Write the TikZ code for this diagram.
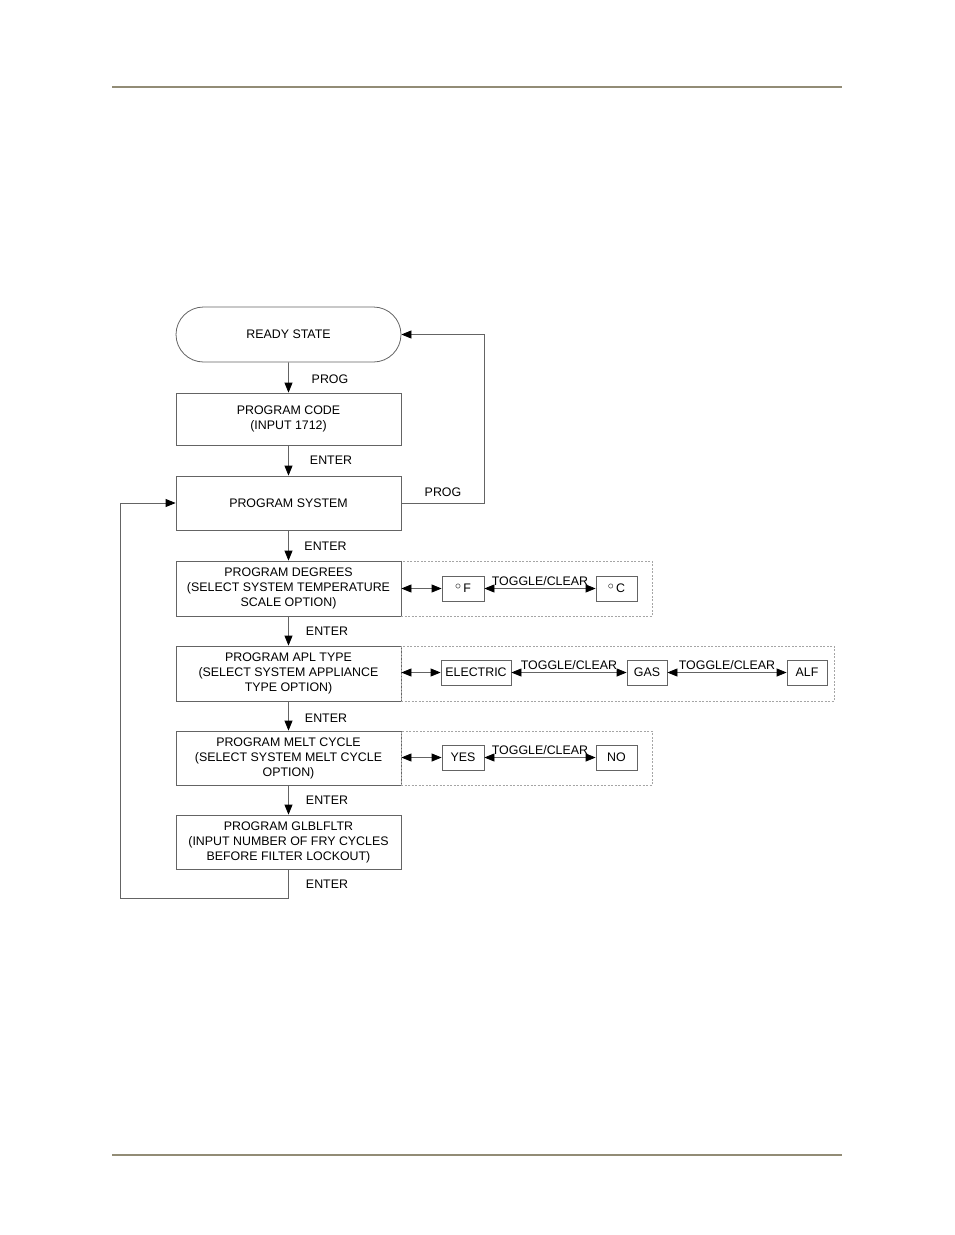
\documentclass[tikz,border=0pt]{standalone}
\usepackage{fontspec}
\setmainfont{Liberation Sans}
\usetikzlibrary{arrows.meta,shapes.misc}
\definecolor{rulecol}{RGB}{146,140,118}
\definecolor{linecol}{RGB}{100,100,100}
\definecolor{dashcol}{RGB}{165,165,165}
\tikzset{
  x=1pt, y=-1pt,
  tip/.style={},
  txt/.style={font=\fontsize{12.4}{15}\selectfont, text=black},
  bigbox/.style={txt, draw=linecol, line width=0.8pt, minimum width=225pt, minimum height=54pt, align=center, inner sep=0pt},
  optbox/.style={txt, draw=linecol, line width=0.8pt, minimum height=25pt, inner sep=0pt},
  dbox/.style={draw=dashcol, line width=0.7pt, dash pattern=on 2pt off 1.5pt, inner sep=0pt},
  flow/.style={draw=linecol, line width=0.8pt, -{Triangle[length=10pt,width=8pt,fill=black,color=black]}},
  dbl/.style={draw=linecol, line width=0.8pt, {Triangle[length=10pt,width=8pt,fill=black,color=black]}-{Triangle[length=10pt,width=8pt,fill=black,color=black]}},
  lbl/.style={txt, inner sep=0pt},
  hrule/.style={draw=rulecol, line width=2pt}
}
\newcommand{\degsym}{\raisebox{3pt}{\fontsize{12}{12}\selectfont$\circ$}\,}
\begin{document}
\begin{tikzpicture}
\useasboundingbox (0,0) rectangle (954,1235);
% header and footer rules
\coordinate (h1) at (112,87);
\coordinate (h2) at (842,87);
\coordinate (f1) at (112,1155);
\coordinate (f2) at (842,1155);
\draw[hrule] (h1) -- (h2);
\draw[hrule] (f1) -- (f2);

% main column
\node[txt, rounded rectangle, draw=linecol, line width=0.8pt, minimum width=225pt, minimum height=55pt, inner sep=0pt] (ready) at (288.5,334.5) {READY STATE};
\node[bigbox, minimum height=52pt] (code) at (288.5,419) {PROGRAM CODE\\(INPUT 1712)};
\node[bigbox] (sys) at (288.5,503) {PROGRAM SYSTEM};
\node[bigbox, minimum height=55pt] (deg) at (288.5,588.5) {PROGRAM DEGREES\\(SELECT SYSTEM TEMPERATURE\\SCALE OPTION)};
\node[bigbox, minimum height=55pt] (apl) at (288.5,673.5) {PROGRAM APL TYPE\\(SELECT SYSTEM APPLIANCE\\TYPE OPTION)};
\node[bigbox] (melt) at (288.5,758) {PROGRAM MELT CYCLE\\(SELECT SYSTEM MELT CYCLE\\OPTION)};
\node[bigbox] (glbl) at (288.5,842) {PROGRAM GLBLFLTR\\(INPUT NUMBER OF FRY CYCLES\\BEFORE FILTER LOCKOUT)};

% dashed option areas
\node[dbox, minimum width=251pt, minimum height=55pt] (degarea) at (526.5,588.5) {};
\node[dbox, minimum width=433pt, minimum height=55pt] (aplarea) at (617.5,673.5) {};
\node[dbox, minimum width=251pt, minimum height=54pt] (meltarea) at (526.5,758) {};
\draw[linecol, line width=0.8pt] (deg.north east) -- (deg.south east);

% option boxes
\node[optbox, minimum width=42pt] (degF) at (463,588.5) {\degsym F};
\node[optbox, minimum width=41pt] (degC) at (616.5,588.5) {\degsym C};
\node[optbox, minimum width=70pt] (elec) at (476,672.5) {ELECTRIC};
\node[optbox, minimum width=40pt] (gas) at (647,672.5) {GAS};
\node[optbox, minimum width=40pt] (alf) at (807,672.5) {ALF};
\node[optbox, minimum width=42pt] (yes) at (463,757.5) {YES};
\node[optbox, minimum width=41pt] (no) at (616.5,757.5) {NO};

% vertical flow
\draw[flow] (ready) -- (code);
\draw[flow] (code) -- (sys);
\draw[flow] (sys) -- (deg);
\draw[flow] (deg) -- (apl);
\draw[flow] (apl) -- (melt);
\draw[flow] (melt) -- (glbl);

\node[lbl] (l1) at (330,379) {PROG};
\node[lbl] (l2) at (331,460) {ENTER};
\node[lbl] (l3) at (325.5,546) {ENTER};
\node[lbl] (l4) at (327,631) {ENTER};
\node[lbl] (l5) at (326,718) {ENTER};
\node[lbl] (l6) at (327,800) {ENTER};
\node[lbl] (l7) at (327,884) {ENTER};

% return to ready state
\coordinate (r1) at (484,503);
\draw[flow] (sys.east) -- (r1) |- (ready.east);
\node[lbl] (l8) at (443,492) {PROG};

% loop back to program system
\coordinate (b1) at (288.5,898);
\coordinate (b2) at (120,898);
\draw[flow] (glbl.south) -- (b1) -- (b2) |- (sys.west);

% option arrows
\draw[dbl] (deg.east |- degF) -- (degF.west);
\draw[dbl] (degF.east) -- node[lbl, above=2pt] (t1) {TOGGLE/CLEAR} (degC.west);
\draw[dbl] (apl.east |- elec) -- (elec.west);
\draw[dbl] (elec.east) -- node[lbl, above=2pt] (t2) {TOGGLE/CLEAR} (gas.west);
\draw[dbl] (gas.east) -- node[lbl, above=2pt] (t3) {TOGGLE/CLEAR} (alf.west);
\draw[dbl] (melt.east |- yes) -- (yes.west);
\draw[dbl] (yes.east) -- node[lbl, above=2pt] (t4) {TOGGLE/CLEAR} (no.west);
\end{tikzpicture}
\end{document}
